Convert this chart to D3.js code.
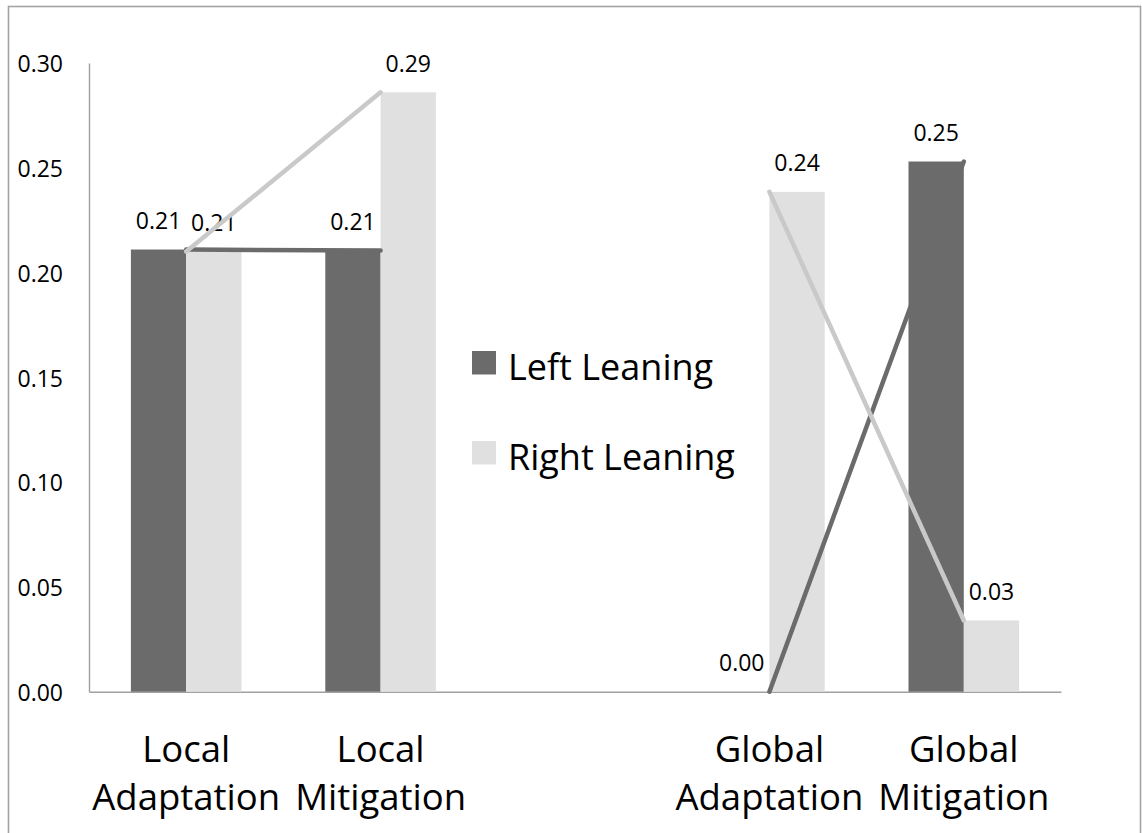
<!DOCTYPE html>
<html>
<head>
<meta charset="utf-8">
<script src="https://cdn.jsdelivr.net/npm/d3@7"></script>
<style>
  html, body { margin: 0; padding: 0; background: #fff; }
  svg { display: block; font-family: "Open Sans", Lato, sans-serif; }
</style>
</head>
<body>
<svg id="chart" width="1142" height="833"></svg>
<script>
// Share of attention by framing, split by political leaning
const categories = ["Local Adaptation", "Local Mitigation", "", "Global Adaptation", "Global Mitigation"];
const leftLeaning = [0.211, 0.2105, null, 0.0, 0.253];
const rightLeaning = [0.210, 0.286, null, 0.2385, 0.034];
const seriesNames = ["Left Leaning", "Right Leaning"];
const yTicks = [0, 0.05, 0.10, 0.15, 0.20, 0.25, 0.30];

const colors = { "Left Leaning": "#6b6b6b", "Right Leaning": "#e0e0e0" };
const lineColors = { "Left Leaning": "#6b6b6b", "Right Leaning": "#c9c9c9" };

const svg = d3.select("#chart");
const plot = { left: 89, right: 1061, top: 63, bottom: 691.7 };

// outer frame
svg.append("rect")
  .attr("x", 8.5).attr("y", 6.5)
  .attr("width", 1132).attr("height", 860)
  .attr("fill", "none").attr("stroke", "#a3a3a3").attr("stroke-width", 1.6);

const x0 = d3.scaleBand()
  .domain(categories)
  .range([plot.left, plot.right])
  .paddingInner(0.431)
  .paddingOuter(0.2155);

const x1 = d3.scaleBand()
  .domain(seriesNames)
  .range([0, x0.bandwidth()]);

const y = d3.scaleLinear().domain([0, 0.30]).range([plot.bottom, plot.top]);

const rows = categories.map((c, i) => ({
  cat: c,
  values: [
    { name: "Left Leaning", v: leftLeaning[i] },
    { name: "Right Leaning", v: rightLeaning[i] }
  ]
}));

// y axis
const yAxis = d3.axisLeft(y).tickValues(yTicks).tickSize(0).tickFormat(d3.format(".2f"));
const gy = svg.append("g").attr("transform", `translate(${plot.left},0)`).call(yAxis);
gy.select(".domain").attr("stroke", "#a0a0a0").attr("stroke-width", 1.4);
gy.selectAll("text")
  .attr("x", -26).attr("dy", "0.38em")
  .attr("font-family", "'Open Sans', sans-serif")
  .attr("font-size", 23).attr("fill", "#000");

// x axis
const xAxis = d3.axisBottom(x0).tickSize(0).tickFormat("");
const gx = svg.append("g").attr("transform", `translate(0,${plot.bottom})`).call(xAxis);
gx.select(".domain").attr("stroke", "#a0a0a0").attr("stroke-width", 1.4);

// category labels on two lines
const catLabels = svg.append("g");
categories.forEach(c => {
  if (!c) return;
  const words = c.split(" ");
  const t = catLabels.append("text")
    .attr("text-anchor", "middle")
    .attr("font-size", 36.5)
    .attr("fill", "#000");
  words.forEach((w, j) => {
    t.append("tspan")
      .attr("x", x0(c) + x0.bandwidth() / 2)
      .attr("y", 761.7 + j * 48)
      .text(w);
  });
});

// bars
const groups = svg.append("g").selectAll("g")
  .data(rows.filter(r => r.cat))
  .join("g")
  .attr("transform", d => `translate(${x0(d.cat)},0)`);

groups.selectAll("rect")
  .data(d => d.values)
  .join("rect")
  .attr("x", d => x1(d.name))
  .attr("width", x1.bandwidth())
  .attr("y", d => y(d.v))
  .attr("height", d => y(0) - y(d.v))
  .attr("fill", d => colors[d.name]);

// connecting lines through category centres
const line = d3.line()
  .defined(d => d.v != null)
  .x(d => x0(d.cat) + x0.bandwidth() / 2)
  .y(d => y(d.v));

[["Left Leaning", leftLeaning], ["Right Leaning", rightLeaning]].forEach(([name, vals]) => {
  svg.append("path")
    .datum(categories.map((c, i) => ({ cat: c, v: vals[i] })))
    .attr("d", line)
    .attr("fill", "none")
    .attr("stroke", lineColors[name])
    .attr("stroke-width", 4.5)
    .attr("stroke-linecap", "round")
    .attr("stroke-linejoin", "round");
});

// value labels
groups.selectAll("text")
  .data(d => d.values)
  .join("text")
  .attr("x", d => x1(d.name) + x1.bandwidth() / 2)
  .attr("y", d => y(d.v) - 20.5)
  .attr("text-anchor", "middle")
  .attr("font-size", 23)
  .attr("fill", "#000")
  .text(d => d3.format(".2f")(d.v));

// legend
const legend = svg.append("g");
seriesNames.forEach((name, i) => {
  const gy0 = 351 + i * 90;
  legend.append("rect")
    .attr("x", 472).attr("y", gy0)
    .attr("width", 24).attr("height", 23.5)
    .attr("fill", colors[name]);
  legend.append("text")
    .attr("x", 508).attr("y", gy0 + 29)
    .attr("font-size", 36)
    .attr("fill", "#000")
    .text(name);
});
</script>
</body>
</html>
